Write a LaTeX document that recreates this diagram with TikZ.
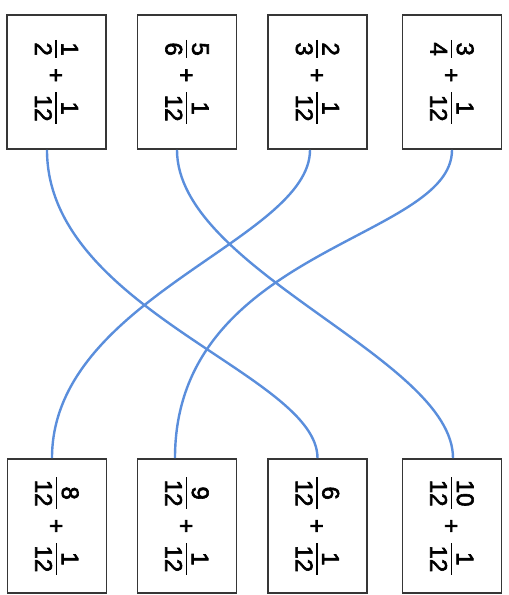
\documentclass[tikz,border=0pt]{standalone}
\usepackage{fontspec}
\usepackage{graphicx}
\setmainfont{Liberation Sans}
\newfontfamily\cardfont{Liberation Sans}[FakeBold=2.5]
\definecolor{boxgray}{HTML}{363636}
\definecolor{linkblue}{HTML}{5A8EDC}
% a stacked fraction whose bar sits at the height of the plus sign's bar
\newcommand\fr[2]{%
  \setbox0\hbox{#1}\setbox2\hbox{#2}%
  \dimen0=\ifdim\wd0>\wd2 \wd0\else\wd2\fi
  \advance\dimen0 by 5pt
  \lower\dimexpr\ht2+4.3pt-0.34em\relax\vbox{%
    \hbox to\dimen0{\hss\box0\hss}\kern4.5pt
    \hrule height1.7pt
    \kern3.5pt
    \hbox to\dimen0{\hss\box2\hss}}}
% a sum of two fractions, set to read from top to bottom
\newcommand\cardsum[2]{\rotatebox{-90}{#1\hspace{10pt}+\hspace{10pt}#2}}
\begin{document}
\begin{tikzpicture}[x=1pt,y=-1pt,
  card/.style={draw=boxgray, line width=1.9pt, minimum width=99pt,
    minimum height=134pt, inner sep=0pt, fill=white,
    font=\cardfont\fontsize{24}{28}\selectfont},
  link/.style={draw=linkblue, line width=2.4pt}]
\useasboundingbox (0,0) rectangle (509,595);
% first row
\node[card] (t1) at (56.5,82) {\cardsum{\fr{1}{2}}{\fr{1}{12}}};
\node[card] (t2) at (187,82) {\cardsum{\fr{5}{6}}{\fr{1}{12}}};
\node[card] (t3) at (317.5,82) {\cardsum{\fr{2}{3}}{\fr{1}{12}}};
\node[card] (t4) at (452,82) {\cardsum{\fr{3}{4}}{\fr{1}{12}}};
% second row
\node[card] (b1) at (57,526) {\cardsum{\fr{8}{12}}{\fr{1}{12}}};
\node[card] (b2) at (187,526) {\cardsum{\fr{9}{12}}{\fr{1}{12}}};
\node[card] (b3) at (317.5,526) {\cardsum{\fr{6}{12}}{\fr{1}{12}}};
\node[card] (b4) at (452,526) {\cardsum{\fr{10}{12}}{\fr{1}{12}}};
% matching lines
\draw[link] ([xshift=-9.5pt]t1.south) .. controls +(0,160) and +(0,-84) .. (b3.north);
\draw[link] ([xshift=-10pt]t2.south) .. controls +(0,120) and +(0,-100) .. ([xshift=1pt]b4.north);
\draw[link] ([xshift=-7.5pt]t3.south) .. controls +(0,90) and +(0,-160) .. ([xshift=-5pt]b1.north);
\draw[link] (t4.south) .. controls +(0,90) and +(0,-210) .. ([xshift=-12pt]b2.north);
\end{tikzpicture}
\end{document}
